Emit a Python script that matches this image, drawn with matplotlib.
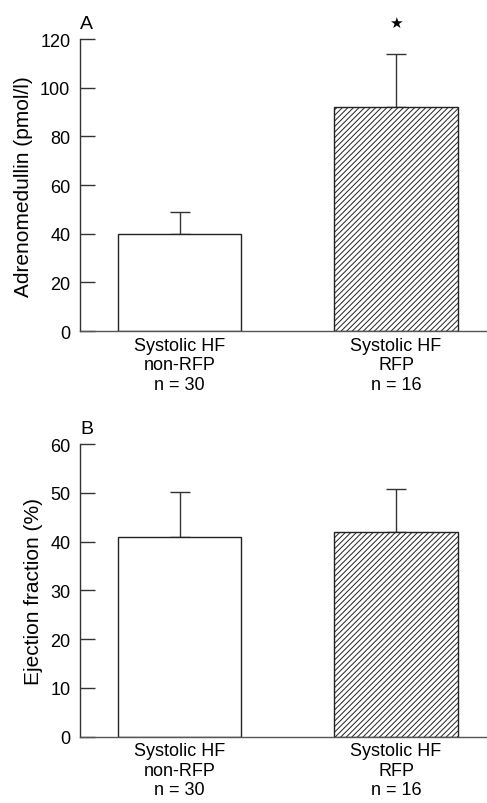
import matplotlib
matplotlib.use("Agg")
import matplotlib.pyplot as plt

plt.rcParams['font.family'] = ['Liberation Sans', 'DejaVu Sans']
plt.rcParams['hatch.linewidth'] = 0.7

categories = ["Systolic HF\nnon-RFP\nn = 30", "Systolic HF\nRFP\nn = 16"]
adm_means = [39.8, 92.2]
adm_errs = [9.2, 21.8]
ef_means = [40.9, 42.0]
ef_errs = [9.2, 8.7]
adm_ticks = [0, 20, 40, 60, 80, 100, 120]
ef_ticks = [0, 10, 20, 30, 40, 50, 60]

fig = plt.figure(figsize=(4.87, 8.04), dpi=100)
ax1 = fig.add_axes([0.1643, 0.587, 0.8357, 0.363])
ax2 = fig.add_axes([0.1643, 0.0825, 0.8357, 0.3640])

def draw(ax, means, errs, ticks, ylabel, letter, star=False):
    x = list(range(len(means)))
    hatches = ['', '//////']
    for i in x:
        ax.bar(i, means[i], width=0.57, color='white', edgecolor='#222222',
               linewidth=1.0, hatch=hatches[i], zorder=2)
        ax.errorbar(i, means[i], yerr=[[0], [errs[i]]], fmt='none',
                    ecolor='#333333', elinewidth=1.0, capsize=7, capthick=1.0, zorder=1)
    ax.set_xlim(-0.46, 1.42)
    ax.set_ylim(ticks[0], ticks[-1])
    ax.set_yticks(ticks)
    ax.set_xticks(x)
    ax.set_xticklabels(categories, fontsize=13, linespacing=1.2)
    ax.tick_params(axis='y', direction='in', length=11, width=1.0, labelsize=13, pad=7, color='#333333')
    ax.tick_params(axis='x', length=0, pad=4)
    for s in ['top', 'right']:
        ax.spines[s].set_visible(False)
    ax.spines['left'].set_color('#333333')
    ax.spines['bottom'].set_color('#555555')
    ax.spines['left'].set_linewidth(1.0)
    ax.spines['bottom'].set_linewidth(1.0)
    ax.set_ylabel(ylabel, fontsize=15, labelpad=5)
    ax.text(0.0, 1.025, letter, transform=ax.transAxes, fontsize=14, ha='left', va='bottom')
    if star:
        ax.text(1, means[1] + errs[1] + 13, '\u2605', ha='center', va='center', fontsize=11,
                family=['DejaVu Sans'])

draw(ax1, adm_means, adm_errs, adm_ticks, 'Adrenomedullin (pmol/l)', 'A', star=True)
draw(ax2, ef_means, ef_errs, ef_ticks, 'Ejection fraction (%)', 'B')

fig.savefig('out.png', dpi=100)
